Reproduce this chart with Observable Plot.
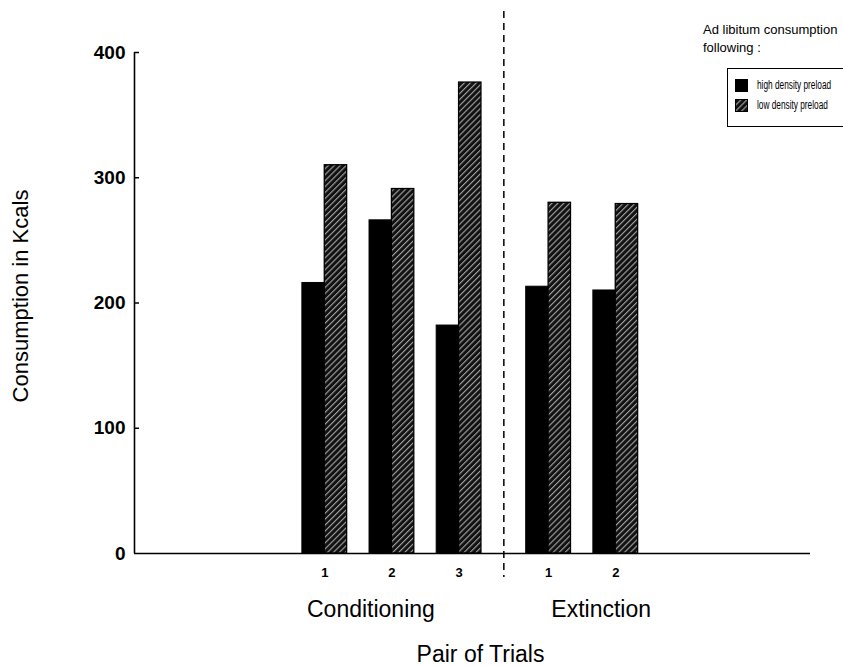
<!DOCTYPE html>
<html>
<head>
<meta charset="utf-8">
<script src="https://cdn.jsdelivr.net/npm/d3@7"></script>
<script src="https://cdn.jsdelivr.net/npm/@observablehq/plot@0.6"></script>
<style>
  html, body { margin: 0; padding: 0; background: #fff; }
  #wrap { position: relative; width: 843px; height: 666px; font-family: "Liberation Sans", Arial, sans-serif; color: #000; overflow: hidden; }
  #legend-title { position: absolute; left: 703px; top: 21px; font-size: 13px; line-height: 18px; white-space: nowrap; }
  #legend-box { position: absolute; left: 727px; top: 68px; width: 130px; height: 59px; box-sizing: border-box;
    border-top: 1.5px solid #000; border-bottom: 1.5px solid #000; border-left: 1.5px solid #000; }
  .item { position: absolute; left: 7px; height: 14px; display: flex; align-items: center; white-space: nowrap; }
  .item svg { flex: none; }
  .item span { display: inline-block; margin-left: 9px; font-size: 12px; transform: scaleX(0.69); transform-origin: left center; }
</style>
</head>
<body>
<div id="wrap"></div>
<script>
// ---- data ----
const phase = ["Conditioning", "Conditioning", "Conditioning", "Extinction", "Extinction"];
const trial = ["1", "2", "3", "1", "2"];
const highDensity = [216, 266, 182, 213, 210];
const lowDensity = [310, 291, 376, 280, 279];
const seriesNames = ["high density preload", "low density preload"];
const yTicks = [0, 100, 200, 300, 400];
const phaseNames = ["Conditioning", "Extinction"];

// ---- layout in "bar slots" derived from the categories ----
const rows = [];
trial.forEach((t, i) => {
  const start = 3 * i + phaseNames.indexOf(phase[i]); // one extra empty slot between phases
  rows.push({trial: t, phase: phase[i], series: seriesNames[0], value: highDensity[i], x1: start, x2: start + 1, center: start + 1});
  rows.push({trial: t, phase: phase[i], series: seriesNames[1], value: lowDensity[i], x1: start + 1, x2: start + 2, center: start + 1});
});
const pairs = rows.filter((d) => d.series === seriesNames[0]);
const lastCond = d3.max(rows.filter((d) => d.phase === phaseNames[0]), (d) => d.x2);
const firstExt = d3.min(rows.filter((d) => d.phase === phaseNames[1]), (d) => d.x1);
const divider = (lastCond + firstExt) / 2;
const phaseLabels = phaseNames.map((p) => {
  const r = rows.filter((d) => d.phase === p);
  return {phase: p, x: (d3.min(r, (d) => d.x1) + d3.max(r, (d) => d.x2)) / 2};
});
const barsEnd = d3.max(rows, (d) => d.x2);

const W = 843, H = 666;
const mL = 134, mR = 33, mT = 52, mB = 113;
const frameW = W - mL - mR;
const font = "Liberation Sans, Arial, sans-serif";

const chart = Plot.plot({
  width: W,
  height: H,
  marginLeft: mL,
  marginRight: mR,
  marginTop: mT,
  marginBottom: mB,
  style: {fontFamily: font, background: "#fff", color: "#000", overflow: "visible"},
  x: {domain: [-7.5, barsEnd + 7.7], axis: null},
  y: {domain: [0, 400], ticks: yTicks, axis: null},
  marks: [
    // bars
    Plot.rectY(rows.filter((d) => d.series === seriesNames[0]), {x1: "x1", x2: "x2", y: "value", fill: "#000", stroke: "#000", strokeWidth: 1}),
    Plot.rectY(rows.filter((d) => d.series === seriesNames[1]), {x1: "x1", x2: "x2", y: "value", fill: "url(#hatch)", stroke: "#000", strokeWidth: 1.3}),
    // y axis line, baseline, inward ticks
    Plot.ruleX([-7.5], {stroke: "#000", strokeWidth: 1.6}),
    Plot.ruleY([0], {stroke: "#000", strokeWidth: 1.6}),
    Plot.ruleY(yTicks.slice(1), {stroke: "#000", strokeWidth: 1.5, insetRight: frameW - 5}),
    Plot.axisY({ticks: yTicks, tickSize: 0, tickPadding: 9, fontSize: 19, fontWeight: "bold", label: null}),
    // phase divider
    Plot.ruleX([divider], {stroke: "#000", strokeWidth: 1.5, strokeDasharray: "7,5", insetTop: -41, insetBottom: -24}),
    // trial numbers
    Plot.text(pairs, {x: "center", y: () => 0, text: "trial", dy: 19, fontSize: 13, fontWeight: "bold"}),
    // phase labels
    Plot.text(phaseLabels.filter((d) => d.phase === phaseNames[0]), {x: "x", y: () => 0, text: "phase", dy: 56, dx: -21, fontSize: 23, letterSpacing: 0.5}),
    Plot.text(phaseLabels.filter((d) => d.phase === phaseNames[1]), {x: "x", y: () => 0, text: "phase", dy: 56, dx: 19, fontSize: 23, letterSpacing: 0.5}),
    // axis titles
    Plot.text(["Pair of Trials"], {frameAnchor: "bottom", dy: 108, dx: 8, fontSize: 23, letterSpacing: 0.4}),
    Plot.text(["Consumption in Kcals"], {frameAnchor: "left", textAnchor: "middle", rotate: -90, dx: -114, dy: -7, fontSize: 22, letterSpacing: 0.6})
  ]
});

// hatch pattern
const svg = d3.select(chart);
const defs = svg.insert("defs", ":first-child");
const pat = defs.append("pattern").attr("id", "hatch").attr("patternUnits", "userSpaceOnUse")
  .attr("width", 4.2).attr("height", 4.2).attr("patternTransform", "rotate(45)");
pat.append("rect").attr("width", 4.2).attr("height", 4.2).attr("fill", "#111");
pat.append("line").attr("x1", 0.6).attr("y1", 0).attr("x2", 0.6).attr("y2", 4.2).attr("stroke", "#b4b4b4").attr("stroke-width", 1);

const wrap = document.getElementById("wrap");
wrap.appendChild(chart);

// legend
const title = document.createElement("div");
title.id = "legend-title";
title.innerHTML = "Ad libitum consumption<br>following :";
wrap.appendChild(title);
const box = document.createElement("div");
box.id = "legend-box";
seriesNames.forEach((name, i) => {
  const item = document.createElement("div");
  item.className = "item";
  item.style.top = (i === 0 ? 9 : 29) + "px";
  item.innerHTML = `<svg width="13" height="13"><rect x="0.5" y="0.5" width="12" height="12" fill="${i === 0 ? "#000" : "url(#hatch)"}" stroke="#000"/></svg><span>${name}</span>`;
  box.appendChild(item);
});
wrap.appendChild(box);
</script>
</body>
</html>
